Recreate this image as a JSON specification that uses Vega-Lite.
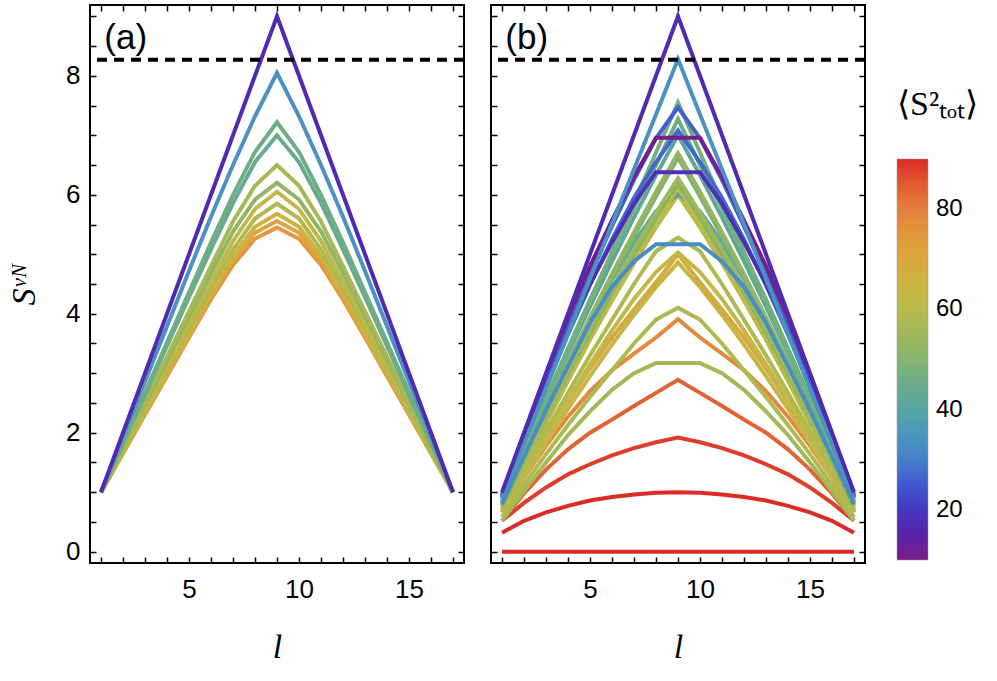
{
"$schema": "https://vega.github.io/schema/vega-lite/v6.json",
"padding": {"left": 6, "top": 3, "right": 5, "bottom": 5},
"background": "white",
"config": {
  "view": {"stroke": "black", "strokeWidth": 2},
  "font": "Liberation Sans",
  "axis": {"domain": false, "grid": false, "tickColor": "black", "tickWidth": 1.5, "tickSize": 6, "offset": -6, "labelColor": "black", "labelFont": "Liberation Sans", "labelFontSize": 26, "titleColor": "black"},
  "concat": {"spacing": 21}
},
"datasets": {
"a": [
{"id":"a11","l":1,"S":1,"c":75},{"id":"a11","l":2,"S":1.65,"c":75},{"id":"a11","l":3,"S":2.3,"c":75},{"id":"a11","l":4,"S":2.95,"c":75},{"id":"a11","l":5,"S":3.6,"c":75},{"id":"a11","l":6,"S":4.24,"c":75},{"id":"a11","l":7,"S":4.82,"c":75},{"id":"a11","l":8,"S":5.26,"c":75},{"id":"a11","l":9,"S":5.45,"c":75},{"id":"a11","l":10,"S":5.26,"c":75},{"id":"a11","l":11,"S":4.82,"c":75},{"id":"a11","l":12,"S":4.24,"c":75},{"id":"a11","l":13,"S":3.6,"c":75},{"id":"a11","l":14,"S":2.95,"c":75},{"id":"a11","l":15,"S":2.3,"c":75},{"id":"a11","l":16,"S":1.65,"c":75},{"id":"a11","l":17,"S":1,"c":75},
{"id":"a10","l":1,"S":1,"c":70},{"id":"a10","l":2,"S":1.66,"c":70},{"id":"a10","l":3,"S":2.32,"c":70},{"id":"a10","l":4,"S":2.98,"c":70},{"id":"a10","l":5,"S":3.64,"c":70},{"id":"a10","l":6,"S":4.29,"c":70},{"id":"a10","l":7,"S":4.9,"c":70},{"id":"a10","l":8,"S":5.36,"c":70},{"id":"a10","l":9,"S":5.56,"c":70},{"id":"a10","l":10,"S":5.36,"c":70},{"id":"a10","l":11,"S":4.9,"c":70},{"id":"a10","l":12,"S":4.29,"c":70},{"id":"a10","l":13,"S":3.64,"c":70},{"id":"a10","l":14,"S":2.98,"c":70},{"id":"a10","l":15,"S":2.32,"c":70},{"id":"a10","l":16,"S":1.66,"c":70},{"id":"a10","l":17,"S":1,"c":70},
{"id":"a9","l":1,"S":1,"c":66},{"id":"a9","l":2,"S":1.67,"c":66},{"id":"a9","l":3,"S":2.34,"c":66},{"id":"a9","l":4,"S":3.01,"c":66},{"id":"a9","l":5,"S":3.68,"c":66},{"id":"a9","l":6,"S":4.34,"c":66},{"id":"a9","l":7,"S":4.97,"c":66},{"id":"a9","l":8,"S":5.46,"c":66},{"id":"a9","l":9,"S":5.68,"c":66},{"id":"a9","l":10,"S":5.46,"c":66},{"id":"a9","l":11,"S":4.97,"c":66},{"id":"a9","l":12,"S":4.34,"c":66},{"id":"a9","l":13,"S":3.68,"c":66},{"id":"a9","l":14,"S":3.01,"c":66},{"id":"a9","l":15,"S":2.34,"c":66},{"id":"a9","l":16,"S":1.67,"c":66},{"id":"a9","l":17,"S":1,"c":66},
{"id":"a8","l":1,"S":1,"c":58},{"id":"a8","l":2,"S":1.69,"c":58},{"id":"a8","l":3,"S":2.38,"c":58},{"id":"a8","l":4,"S":3.07,"c":58},{"id":"a8","l":5,"S":3.76,"c":58},{"id":"a8","l":6,"S":4.44,"c":58},{"id":"a8","l":7,"S":5.08,"c":58},{"id":"a8","l":8,"S":5.6,"c":58},{"id":"a8","l":9,"S":5.85,"c":58},{"id":"a8","l":10,"S":5.6,"c":58},{"id":"a8","l":11,"S":5.08,"c":58},{"id":"a8","l":12,"S":4.44,"c":58},{"id":"a8","l":13,"S":3.76,"c":58},{"id":"a8","l":14,"S":3.07,"c":58},{"id":"a8","l":15,"S":2.38,"c":58},{"id":"a8","l":16,"S":1.69,"c":58},{"id":"a8","l":17,"S":1,"c":58},
{"id":"a7","l":1,"S":1,"c":62},{"id":"a7","l":2,"S":1.71,"c":62},{"id":"a7","l":3,"S":2.42,"c":62},{"id":"a7","l":4,"S":3.13,"c":62},{"id":"a7","l":5,"S":3.84,"c":62},{"id":"a7","l":6,"S":4.54,"c":62},{"id":"a7","l":7,"S":5.22,"c":62},{"id":"a7","l":8,"S":5.76,"c":62},{"id":"a7","l":9,"S":6.05,"c":62},{"id":"a7","l":10,"S":5.76,"c":62},{"id":"a7","l":11,"S":5.22,"c":62},{"id":"a7","l":12,"S":4.54,"c":62},{"id":"a7","l":13,"S":3.84,"c":62},{"id":"a7","l":14,"S":3.13,"c":62},{"id":"a7","l":15,"S":2.42,"c":62},{"id":"a7","l":16,"S":1.71,"c":62},{"id":"a7","l":17,"S":1,"c":62},
{"id":"a6","l":1,"S":1,"c":52},{"id":"a6","l":2,"S":1.74,"c":52},{"id":"a6","l":3,"S":2.48,"c":52},{"id":"a6","l":4,"S":3.22,"c":52},{"id":"a6","l":5,"S":3.96,"c":52},{"id":"a6","l":6,"S":4.68,"c":52},{"id":"a6","l":7,"S":5.38,"c":52},{"id":"a6","l":8,"S":5.92,"c":52},{"id":"a6","l":9,"S":6.2,"c":52},{"id":"a6","l":10,"S":5.92,"c":52},{"id":"a6","l":11,"S":5.38,"c":52},{"id":"a6","l":12,"S":4.68,"c":52},{"id":"a6","l":13,"S":3.96,"c":52},{"id":"a6","l":14,"S":3.22,"c":52},{"id":"a6","l":15,"S":2.48,"c":52},{"id":"a6","l":16,"S":1.74,"c":52},{"id":"a6","l":17,"S":1,"c":52},
{"id":"a5","l":1,"S":1,"c":57},{"id":"a5","l":2,"S":1.76,"c":57},{"id":"a5","l":3,"S":2.52,"c":57},{"id":"a5","l":4,"S":3.28,"c":57},{"id":"a5","l":5,"S":4.04,"c":57},{"id":"a5","l":6,"S":4.8,"c":57},{"id":"a5","l":7,"S":5.55,"c":57},{"id":"a5","l":8,"S":6.15,"c":57},{"id":"a5","l":9,"S":6.5,"c":57},{"id":"a5","l":10,"S":6.15,"c":57},{"id":"a5","l":11,"S":5.55,"c":57},{"id":"a5","l":12,"S":4.8,"c":57},{"id":"a5","l":13,"S":4.04,"c":57},{"id":"a5","l":14,"S":3.28,"c":57},{"id":"a5","l":15,"S":2.52,"c":57},{"id":"a5","l":16,"S":1.76,"c":57},{"id":"a5","l":17,"S":1,"c":57},
{"id":"a4","l":1,"S":1,"c":44},{"id":"a4","l":2,"S":1.82,"c":44},{"id":"a4","l":3,"S":2.64,"c":44},{"id":"a4","l":4,"S":3.46,"c":44},{"id":"a4","l":5,"S":4.28,"c":44},{"id":"a4","l":6,"S":5.08,"c":44},{"id":"a4","l":7,"S":5.86,"c":44},{"id":"a4","l":8,"S":6.55,"c":44},{"id":"a4","l":9,"S":7,"c":44},{"id":"a4","l":10,"S":6.55,"c":44},{"id":"a4","l":11,"S":5.86,"c":44},{"id":"a4","l":12,"S":5.08,"c":44},{"id":"a4","l":13,"S":4.28,"c":44},{"id":"a4","l":14,"S":3.46,"c":44},{"id":"a4","l":15,"S":2.64,"c":44},{"id":"a4","l":16,"S":1.82,"c":44},{"id":"a4","l":17,"S":1,"c":44},
{"id":"a3","l":1,"S":1,"c":46},{"id":"a3","l":2,"S":1.84,"c":46},{"id":"a3","l":3,"S":2.68,"c":46},{"id":"a3","l":4,"S":3.52,"c":46},{"id":"a3","l":5,"S":4.36,"c":46},{"id":"a3","l":6,"S":5.2,"c":46},{"id":"a3","l":7,"S":6,"c":46},{"id":"a3","l":8,"S":6.72,"c":46},{"id":"a3","l":9,"S":7.22,"c":46},{"id":"a3","l":10,"S":6.72,"c":46},{"id":"a3","l":11,"S":6,"c":46},{"id":"a3","l":12,"S":5.2,"c":46},{"id":"a3","l":13,"S":4.36,"c":46},{"id":"a3","l":14,"S":3.52,"c":46},{"id":"a3","l":15,"S":2.68,"c":46},{"id":"a3","l":16,"S":1.84,"c":46},{"id":"a3","l":17,"S":1,"c":46},
{"id":"a2","l":1,"S":1,"c":34},{"id":"a2","l":2,"S":1.93,"c":34},{"id":"a2","l":3,"S":2.86,"c":34},{"id":"a2","l":4,"S":3.79,"c":34},{"id":"a2","l":5,"S":4.72,"c":34},{"id":"a2","l":6,"S":5.63,"c":34},{"id":"a2","l":7,"S":6.5,"c":34},{"id":"a2","l":8,"S":7.32,"c":34},{"id":"a2","l":9,"S":8.05,"c":34},{"id":"a2","l":10,"S":7.32,"c":34},{"id":"a2","l":11,"S":6.5,"c":34},{"id":"a2","l":12,"S":5.63,"c":34},{"id":"a2","l":13,"S":4.72,"c":34},{"id":"a2","l":14,"S":3.79,"c":34},{"id":"a2","l":15,"S":2.86,"c":34},{"id":"a2","l":16,"S":1.93,"c":34},{"id":"a2","l":17,"S":1,"c":34},
{"id":"a1","l":1,"S":1,"c":17},{"id":"a1","l":2,"S":2,"c":17},{"id":"a1","l":3,"S":3,"c":17},{"id":"a1","l":4,"S":4,"c":17},{"id":"a1","l":5,"S":5,"c":17},{"id":"a1","l":6,"S":6,"c":17},{"id":"a1","l":7,"S":7,"c":17},{"id":"a1","l":8,"S":8,"c":17},{"id":"a1","l":9,"S":9,"c":17},{"id":"a1","l":10,"S":8,"c":17},{"id":"a1","l":11,"S":7,"c":17},{"id":"a1","l":12,"S":6,"c":17},{"id":"a1","l":13,"S":5,"c":17},{"id":"a1","l":14,"S":4,"c":17},{"id":"a1","l":15,"S":3,"c":17},{"id":"a1","l":16,"S":2,"c":17},{"id":"a1","l":17,"S":1,"c":17}
],
"b": [
{"id":"b28","l":1,"S":0,"c":90},{"id":"b28","l":2,"S":0,"c":90},{"id":"b28","l":3,"S":0,"c":90},{"id":"b28","l":4,"S":0,"c":90},{"id":"b28","l":5,"S":0,"c":90},{"id":"b28","l":6,"S":0,"c":90},{"id":"b28","l":7,"S":0,"c":90},{"id":"b28","l":8,"S":0,"c":90},{"id":"b28","l":9,"S":0,"c":90},{"id":"b28","l":10,"S":0,"c":90},{"id":"b28","l":11,"S":0,"c":90},{"id":"b28","l":12,"S":0,"c":90},{"id":"b28","l":13,"S":0,"c":90},{"id":"b28","l":14,"S":0,"c":90},{"id":"b28","l":15,"S":0,"c":90},{"id":"b28","l":16,"S":0,"c":90},{"id":"b28","l":17,"S":0,"c":90},
{"id":"b27","l":1,"S":0.32,"c":90},{"id":"b27","l":2,"S":0.52,"c":90},{"id":"b27","l":3,"S":0.66,"c":90},{"id":"b27","l":4,"S":0.77,"c":90},{"id":"b27","l":5,"S":0.86,"c":90},{"id":"b27","l":6,"S":0.92,"c":90},{"id":"b27","l":7,"S":0.96,"c":90},{"id":"b27","l":8,"S":0.99,"c":90},{"id":"b27","l":9,"S":1,"c":90},{"id":"b27","l":10,"S":0.99,"c":90},{"id":"b27","l":11,"S":0.96,"c":90},{"id":"b27","l":12,"S":0.92,"c":90},{"id":"b27","l":13,"S":0.86,"c":90},{"id":"b27","l":14,"S":0.77,"c":90},{"id":"b27","l":15,"S":0.66,"c":90},{"id":"b27","l":16,"S":0.52,"c":90},{"id":"b27","l":17,"S":0.32,"c":90},
{"id":"b26","l":1,"S":0.52,"c":88},{"id":"b26","l":2,"S":0.82,"c":88},{"id":"b26","l":3,"S":1.08,"c":88},{"id":"b26","l":4,"S":1.3,"c":88},{"id":"b26","l":5,"S":1.47,"c":88},{"id":"b26","l":6,"S":1.62,"c":88},{"id":"b26","l":7,"S":1.74,"c":88},{"id":"b26","l":8,"S":1.84,"c":88},{"id":"b26","l":9,"S":1.92,"c":88},{"id":"b26","l":10,"S":1.84,"c":88},{"id":"b26","l":11,"S":1.74,"c":88},{"id":"b26","l":12,"S":1.62,"c":88},{"id":"b26","l":13,"S":1.47,"c":88},{"id":"b26","l":14,"S":1.3,"c":88},{"id":"b26","l":15,"S":1.08,"c":88},{"id":"b26","l":16,"S":0.82,"c":88},{"id":"b26","l":17,"S":0.52,"c":88},
{"id":"b25","l":1,"S":0.52,"c":84},{"id":"b25","l":2,"S":0.98,"c":84},{"id":"b25","l":3,"S":1.38,"c":84},{"id":"b25","l":4,"S":1.72,"c":84},{"id":"b25","l":5,"S":2,"c":84},{"id":"b25","l":6,"S":2.22,"c":84},{"id":"b25","l":7,"S":2.45,"c":84},{"id":"b25","l":8,"S":2.67,"c":84},{"id":"b25","l":9,"S":2.89,"c":84},{"id":"b25","l":10,"S":2.67,"c":84},{"id":"b25","l":11,"S":2.45,"c":84},{"id":"b25","l":12,"S":2.22,"c":84},{"id":"b25","l":13,"S":2,"c":84},{"id":"b25","l":14,"S":1.72,"c":84},{"id":"b25","l":15,"S":1.38,"c":84},{"id":"b25","l":16,"S":0.98,"c":84},{"id":"b25","l":17,"S":0.52,"c":84},
{"id":"b24","l":1,"S":0.52,"c":56},{"id":"b24","l":2,"S":1.02,"c":56},{"id":"b24","l":3,"S":1.5,"c":56},{"id":"b24","l":4,"S":1.96,"c":56},{"id":"b24","l":5,"S":2.36,"c":56},{"id":"b24","l":6,"S":2.72,"c":56},{"id":"b24","l":7,"S":3,"c":56},{"id":"b24","l":8,"S":3.17,"c":56},{"id":"b24","l":9,"S":3.17,"c":56},{"id":"b24","l":10,"S":3.17,"c":56},{"id":"b24","l":11,"S":3,"c":56},{"id":"b24","l":12,"S":2.72,"c":56},{"id":"b24","l":13,"S":2.36,"c":56},{"id":"b24","l":14,"S":1.96,"c":56},{"id":"b24","l":15,"S":1.5,"c":56},{"id":"b24","l":16,"S":1.02,"c":56},{"id":"b24","l":17,"S":0.52,"c":56},
{"id":"b23","l":1,"S":0.66,"c":78},{"id":"b23","l":2,"S":1.24,"c":78},{"id":"b23","l":3,"S":1.78,"c":78},{"id":"b23","l":4,"S":2.27,"c":78},{"id":"b23","l":5,"S":2.7,"c":78},{"id":"b23","l":6,"S":3.05,"c":78},{"id":"b23","l":7,"S":3.33,"c":78},{"id":"b23","l":8,"S":3.6,"c":78},{"id":"b23","l":9,"S":3.91,"c":78},{"id":"b23","l":10,"S":3.6,"c":78},{"id":"b23","l":11,"S":3.33,"c":78},{"id":"b23","l":12,"S":3.05,"c":78},{"id":"b23","l":13,"S":2.7,"c":78},{"id":"b23","l":14,"S":2.27,"c":78},{"id":"b23","l":15,"S":1.78,"c":78},{"id":"b23","l":16,"S":1.24,"c":78},{"id":"b23","l":17,"S":0.66,"c":78},
{"id":"b22","l":1,"S":0.58,"c":58},{"id":"b22","l":2,"S":1.12,"c":58},{"id":"b22","l":3,"S":1.64,"c":58},{"id":"b22","l":4,"S":2.13,"c":58},{"id":"b22","l":5,"S":2.6,"c":58},{"id":"b22","l":6,"S":3.05,"c":58},{"id":"b22","l":7,"S":3.5,"c":58},{"id":"b22","l":8,"S":3.9,"c":58},{"id":"b22","l":9,"S":4.1,"c":58},{"id":"b22","l":10,"S":3.9,"c":58},{"id":"b22","l":11,"S":3.5,"c":58},{"id":"b22","l":12,"S":3.05,"c":58},{"id":"b22","l":13,"S":2.6,"c":58},{"id":"b22","l":14,"S":2.13,"c":58},{"id":"b22","l":15,"S":1.64,"c":58},{"id":"b22","l":16,"S":1.12,"c":58},{"id":"b22","l":17,"S":0.58,"c":58},
{"id":"b21","l":1,"S":0.66,"c":63},{"id":"b21","l":2,"S":1.25,"c":63},{"id":"b21","l":3,"S":1.83,"c":63},{"id":"b21","l":4,"S":2.4,"c":63},{"id":"b21","l":5,"S":2.95,"c":63},{"id":"b21","l":6,"S":3.48,"c":63},{"id":"b21","l":7,"S":3.98,"c":63},{"id":"b21","l":8,"S":4.45,"c":63},{"id":"b21","l":9,"S":4.86,"c":63},{"id":"b21","l":10,"S":4.45,"c":63},{"id":"b21","l":11,"S":3.98,"c":63},{"id":"b21","l":12,"S":3.48,"c":63},{"id":"b21","l":13,"S":2.95,"c":63},{"id":"b21","l":14,"S":2.4,"c":63},{"id":"b21","l":15,"S":1.83,"c":63},{"id":"b21","l":16,"S":1.25,"c":63},{"id":"b21","l":17,"S":0.66,"c":63},
{"id":"b20","l":1,"S":0.7,"c":70},{"id":"b20","l":2,"S":1.32,"c":70},{"id":"b20","l":3,"S":1.93,"c":70},{"id":"b20","l":4,"S":2.52,"c":70},{"id":"b20","l":5,"S":3.08,"c":70},{"id":"b20","l":6,"S":3.6,"c":70},{"id":"b20","l":7,"S":4.07,"c":70},{"id":"b20","l":8,"S":4.53,"c":70},{"id":"b20","l":9,"S":5,"c":70},{"id":"b20","l":10,"S":4.53,"c":70},{"id":"b20","l":11,"S":4.07,"c":70},{"id":"b20","l":12,"S":3.6,"c":70},{"id":"b20","l":13,"S":3.08,"c":70},{"id":"b20","l":14,"S":2.52,"c":70},{"id":"b20","l":15,"S":1.93,"c":70},{"id":"b20","l":16,"S":1.32,"c":70},{"id":"b20","l":17,"S":0.7,"c":70},
{"id":"b19","l":1,"S":0.66,"c":62},{"id":"b19","l":2,"S":1.3,"c":62},{"id":"b19","l":3,"S":1.93,"c":62},{"id":"b19","l":4,"S":2.55,"c":62},{"id":"b19","l":5,"S":3.15,"c":62},{"id":"b19","l":6,"S":3.72,"c":62},{"id":"b19","l":7,"S":4.25,"c":62},{"id":"b19","l":8,"S":4.7,"c":62},{"id":"b19","l":9,"S":5.03,"c":62},{"id":"b19","l":10,"S":4.7,"c":62},{"id":"b19","l":11,"S":4.25,"c":62},{"id":"b19","l":12,"S":3.72,"c":62},{"id":"b19","l":13,"S":3.15,"c":62},{"id":"b19","l":14,"S":2.55,"c":62},{"id":"b19","l":15,"S":1.93,"c":62},{"id":"b19","l":16,"S":1.3,"c":62},{"id":"b19","l":17,"S":0.66,"c":62},
{"id":"b17","l":1,"S":0.66,"c":58},{"id":"b17","l":2,"S":1.35,"c":58},{"id":"b17","l":3,"S":2.02,"c":58},{"id":"b17","l":4,"S":2.67,"c":58},{"id":"b17","l":5,"S":3.3,"c":58},{"id":"b17","l":6,"S":3.9,"c":58},{"id":"b17","l":7,"S":4.5,"c":58},{"id":"b17","l":8,"S":5.05,"c":58},{"id":"b17","l":9,"S":5.28,"c":58},{"id":"b17","l":10,"S":5.05,"c":58},{"id":"b17","l":11,"S":4.5,"c":58},{"id":"b17","l":12,"S":3.9,"c":58},{"id":"b17","l":13,"S":3.3,"c":58},{"id":"b17","l":14,"S":2.67,"c":58},{"id":"b17","l":15,"S":2.02,"c":58},{"id":"b17","l":16,"S":1.35,"c":58},{"id":"b17","l":17,"S":0.66,"c":58},
{"id":"b16","l":1,"S":0.68,"c":60},{"id":"b16","l":2,"S":1.42,"c":60},{"id":"b16","l":3,"S":2.15,"c":60},{"id":"b16","l":4,"S":2.87,"c":60},{"id":"b16","l":5,"S":3.56,"c":60},{"id":"b16","l":6,"S":4.22,"c":60},{"id":"b16","l":7,"S":4.85,"c":60},{"id":"b16","l":8,"S":5.45,"c":60},{"id":"b16","l":9,"S":6,"c":60},{"id":"b16","l":10,"S":5.45,"c":60},{"id":"b16","l":11,"S":4.85,"c":60},{"id":"b16","l":12,"S":4.22,"c":60},{"id":"b16","l":13,"S":3.56,"c":60},{"id":"b16","l":14,"S":2.87,"c":60},{"id":"b16","l":15,"S":2.15,"c":60},{"id":"b16","l":16,"S":1.42,"c":60},{"id":"b16","l":17,"S":0.68,"c":60},
{"id":"b15","l":1,"S":0.83,"c":42},{"id":"b15","l":2,"S":1.62,"c":42},{"id":"b15","l":3,"S":2.4,"c":42},{"id":"b15","l":4,"S":3.15,"c":42},{"id":"b15","l":5,"S":3.88,"c":42},{"id":"b15","l":6,"S":4.57,"c":42},{"id":"b15","l":7,"S":5.2,"c":42},{"id":"b15","l":8,"S":5.72,"c":42},{"id":"b15","l":9,"S":6.01,"c":42},{"id":"b15","l":10,"S":5.72,"c":42},{"id":"b15","l":11,"S":5.2,"c":42},{"id":"b15","l":12,"S":4.57,"c":42},{"id":"b15","l":13,"S":3.88,"c":42},{"id":"b15","l":14,"S":3.15,"c":42},{"id":"b15","l":15,"S":2.4,"c":42},{"id":"b15","l":16,"S":1.62,"c":42},{"id":"b15","l":17,"S":0.83,"c":42},
{"id":"b14","l":1,"S":0.68,"c":62},{"id":"b14","l":2,"S":1.45,"c":62},{"id":"b14","l":3,"S":2.2,"c":62},{"id":"b14","l":4,"S":2.93,"c":62},{"id":"b14","l":5,"S":3.63,"c":62},{"id":"b14","l":6,"S":4.3,"c":62},{"id":"b14","l":7,"S":4.93,"c":62},{"id":"b14","l":8,"S":5.54,"c":62},{"id":"b14","l":9,"S":6.12,"c":62},{"id":"b14","l":10,"S":5.54,"c":62},{"id":"b14","l":11,"S":4.93,"c":62},{"id":"b14","l":12,"S":4.3,"c":62},{"id":"b14","l":13,"S":3.63,"c":62},{"id":"b14","l":14,"S":2.93,"c":62},{"id":"b14","l":15,"S":2.2,"c":62},{"id":"b14","l":16,"S":1.45,"c":62},{"id":"b14","l":17,"S":0.68,"c":62},
{"id":"b13","l":1,"S":0.75,"c":50},{"id":"b13","l":2,"S":1.5,"c":50},{"id":"b13","l":3,"S":2.25,"c":50},{"id":"b13","l":4,"S":2.98,"c":50},{"id":"b13","l":5,"S":3.68,"c":50},{"id":"b13","l":6,"S":4.36,"c":50},{"id":"b13","l":7,"S":5,"c":50},{"id":"b13","l":8,"S":5.62,"c":50},{"id":"b13","l":9,"S":6.2,"c":50},{"id":"b13","l":10,"S":5.62,"c":50},{"id":"b13","l":11,"S":5,"c":50},{"id":"b13","l":12,"S":4.36,"c":50},{"id":"b13","l":13,"S":3.68,"c":50},{"id":"b13","l":14,"S":2.98,"c":50},{"id":"b13","l":15,"S":2.25,"c":50},{"id":"b13","l":16,"S":1.5,"c":50},{"id":"b13","l":17,"S":0.75,"c":50},
{"id":"b12","l":1,"S":0.72,"c":55},{"id":"b12","l":2,"S":1.5,"c":55},{"id":"b12","l":3,"S":2.27,"c":55},{"id":"b12","l":4,"S":3.02,"c":55},{"id":"b12","l":5,"S":3.74,"c":55},{"id":"b12","l":6,"S":4.43,"c":55},{"id":"b12","l":7,"S":5.08,"c":55},{"id":"b12","l":8,"S":5.7,"c":55},{"id":"b12","l":9,"S":6.28,"c":55},{"id":"b12","l":10,"S":5.7,"c":55},{"id":"b12","l":11,"S":5.08,"c":55},{"id":"b12","l":12,"S":4.43,"c":55},{"id":"b12","l":13,"S":3.74,"c":55},{"id":"b12","l":14,"S":3.02,"c":55},{"id":"b12","l":15,"S":2.27,"c":55},{"id":"b12","l":16,"S":1.5,"c":55},{"id":"b12","l":17,"S":0.72,"c":55},
{"id":"b11","l":1,"S":0.78,"c":49},{"id":"b11","l":2,"S":1.58,"c":49},{"id":"b11","l":3,"S":2.37,"c":49},{"id":"b11","l":4,"S":3.14,"c":49},{"id":"b11","l":5,"S":3.88,"c":49},{"id":"b11","l":6,"S":4.6,"c":49},{"id":"b11","l":7,"S":5.3,"c":49},{"id":"b11","l":8,"S":5.97,"c":49},{"id":"b11","l":9,"S":6.62,"c":49},{"id":"b11","l":10,"S":5.97,"c":49},{"id":"b11","l":11,"S":5.3,"c":49},{"id":"b11","l":12,"S":4.6,"c":49},{"id":"b11","l":13,"S":3.88,"c":49},{"id":"b11","l":14,"S":3.14,"c":49},{"id":"b11","l":15,"S":2.37,"c":49},{"id":"b11","l":16,"S":1.58,"c":49},{"id":"b11","l":17,"S":0.78,"c":49},
{"id":"b10","l":1,"S":0.78,"c":53},{"id":"b10","l":2,"S":1.6,"c":53},{"id":"b10","l":3,"S":2.4,"c":53},{"id":"b10","l":4,"S":3.18,"c":53},{"id":"b10","l":5,"S":3.94,"c":53},{"id":"b10","l":6,"S":4.67,"c":53},{"id":"b10","l":7,"S":5.37,"c":53},{"id":"b10","l":8,"S":6.05,"c":53},{"id":"b10","l":9,"S":6.7,"c":53},{"id":"b10","l":10,"S":6.05,"c":53},{"id":"b10","l":11,"S":5.37,"c":53},{"id":"b10","l":12,"S":4.67,"c":53},{"id":"b10","l":13,"S":3.94,"c":53},{"id":"b10","l":14,"S":3.18,"c":53},{"id":"b10","l":15,"S":2.4,"c":53},{"id":"b10","l":16,"S":1.6,"c":53},{"id":"b10","l":17,"S":0.78,"c":53},
{"id":"b8","l":1,"S":0.83,"c":42},{"id":"b8","l":2,"S":1.68,"c":42},{"id":"b8","l":3,"S":2.52,"c":42},{"id":"b8","l":4,"S":3.33,"c":42},{"id":"b8","l":5,"S":4.12,"c":42},{"id":"b8","l":6,"S":4.88,"c":42},{"id":"b8","l":7,"S":5.62,"c":42},{"id":"b8","l":8,"S":6.33,"c":42},{"id":"b8","l":9,"S":7,"c":42},{"id":"b8","l":10,"S":6.33,"c":42},{"id":"b8","l":11,"S":5.62,"c":42},{"id":"b8","l":12,"S":4.88,"c":42},{"id":"b8","l":13,"S":4.12,"c":42},{"id":"b8","l":14,"S":3.33,"c":42},{"id":"b8","l":15,"S":2.52,"c":42},{"id":"b8","l":16,"S":1.68,"c":42},{"id":"b8","l":17,"S":0.83,"c":42},
{"id":"b7","l":1,"S":0.85,"c":46},{"id":"b7","l":2,"S":1.72,"c":46},{"id":"b7","l":3,"S":2.58,"c":46},{"id":"b7","l":4,"S":3.42,"c":46},{"id":"b7","l":5,"S":4.24,"c":46},{"id":"b7","l":6,"S":5.02,"c":46},{"id":"b7","l":7,"S":5.77,"c":46},{"id":"b7","l":8,"S":6.5,"c":46},{"id":"b7","l":9,"S":7.27,"c":46},{"id":"b7","l":10,"S":6.5,"c":46},{"id":"b7","l":11,"S":5.77,"c":46},{"id":"b7","l":12,"S":5.02,"c":46},{"id":"b7","l":13,"S":4.24,"c":46},{"id":"b7","l":14,"S":3.42,"c":46},{"id":"b7","l":15,"S":2.58,"c":46},{"id":"b7","l":16,"S":1.72,"c":46},{"id":"b7","l":17,"S":0.85,"c":46},
{"id":"b3","l":1,"S":0.85,"c":47},{"id":"b3","l":2,"S":1.69,"c":47},{"id":"b3","l":3,"S":2.52,"c":47},{"id":"b3","l":4,"S":3.36,"c":47},{"id":"b3","l":5,"S":4.2,"c":47},{"id":"b3","l":6,"S":5.04,"c":47},{"id":"b3","l":7,"S":5.87,"c":47},{"id":"b3","l":8,"S":6.71,"c":47},{"id":"b3","l":9,"S":7.55,"c":47},{"id":"b3","l":10,"S":6.71,"c":47},{"id":"b3","l":11,"S":5.87,"c":47},{"id":"b3","l":12,"S":5.04,"c":47},{"id":"b3","l":13,"S":4.2,"c":47},{"id":"b3","l":14,"S":3.36,"c":47},{"id":"b3","l":15,"S":2.52,"c":47},{"id":"b3","l":16,"S":1.69,"c":47},{"id":"b3","l":17,"S":0.85,"c":47},
{"id":"b18","l":1,"S":0.8,"c":33},{"id":"b18","l":2,"S":1.6,"c":33},{"id":"b18","l":3,"S":2.38,"c":33},{"id":"b18","l":4,"S":3.12,"c":33},{"id":"b18","l":5,"S":3.85,"c":33},{"id":"b18","l":6,"S":4.45,"c":33},{"id":"b18","l":7,"S":4.88,"c":33},{"id":"b18","l":8,"S":5.17,"c":33},{"id":"b18","l":9,"S":5.17,"c":33},{"id":"b18","l":10,"S":5.17,"c":33},{"id":"b18","l":11,"S":4.88,"c":33},{"id":"b18","l":12,"S":4.45,"c":33},{"id":"b18","l":13,"S":3.85,"c":33},{"id":"b18","l":14,"S":3.12,"c":33},{"id":"b18","l":15,"S":2.38,"c":33},{"id":"b18","l":16,"S":1.6,"c":33},{"id":"b18","l":17,"S":0.8,"c":33},
{"id":"b6","l":1,"S":0.92,"c":27},{"id":"b6","l":2,"S":1.85,"c":27},{"id":"b6","l":3,"S":2.77,"c":27},{"id":"b6","l":4,"S":3.65,"c":27},{"id":"b6","l":5,"S":4.48,"c":27},{"id":"b6","l":6,"S":5.25,"c":27},{"id":"b6","l":7,"S":5.95,"c":27},{"id":"b6","l":8,"S":6.55,"c":27},{"id":"b6","l":9,"S":7.08,"c":27},{"id":"b6","l":10,"S":6.55,"c":27},{"id":"b6","l":11,"S":5.95,"c":27},{"id":"b6","l":12,"S":5.25,"c":27},{"id":"b6","l":13,"S":4.48,"c":27},{"id":"b6","l":14,"S":3.65,"c":27},{"id":"b6","l":15,"S":2.77,"c":27},{"id":"b6","l":16,"S":1.85,"c":27},{"id":"b6","l":17,"S":0.92,"c":27},
{"id":"b9","l":1,"S":0.9,"c":18},{"id":"b9","l":2,"S":1.9,"c":18},{"id":"b9","l":3,"S":2.85,"c":18},{"id":"b9","l":4,"S":3.72,"c":18},{"id":"b9","l":5,"S":4.5,"c":18},{"id":"b9","l":6,"S":5.2,"c":18},{"id":"b9","l":7,"S":5.85,"c":18},{"id":"b9","l":8,"S":6.38,"c":18},{"id":"b9","l":9,"S":6.38,"c":18},{"id":"b9","l":10,"S":6.38,"c":18},{"id":"b9","l":11,"S":5.85,"c":18},{"id":"b9","l":12,"S":5.2,"c":18},{"id":"b9","l":13,"S":4.5,"c":18},{"id":"b9","l":14,"S":3.72,"c":18},{"id":"b9","l":15,"S":2.85,"c":18},{"id":"b9","l":16,"S":1.9,"c":18},{"id":"b9","l":17,"S":0.9,"c":18},
{"id":"b4","l":1,"S":0.93,"c":26},{"id":"b4","l":2,"S":1.9,"c":26},{"id":"b4","l":3,"S":2.85,"c":26},{"id":"b4","l":4,"S":3.77,"c":26},{"id":"b4","l":5,"S":4.65,"c":26},{"id":"b4","l":6,"S":5.47,"c":26},{"id":"b4","l":7,"S":6.25,"c":26},{"id":"b4","l":8,"S":6.95,"c":26},{"id":"b4","l":9,"S":7.47,"c":26},{"id":"b4","l":10,"S":6.95,"c":26},{"id":"b4","l":11,"S":6.25,"c":26},{"id":"b4","l":12,"S":5.47,"c":26},{"id":"b4","l":13,"S":4.65,"c":26},{"id":"b4","l":14,"S":3.77,"c":26},{"id":"b4","l":15,"S":2.85,"c":26},{"id":"b4","l":16,"S":1.9,"c":26},{"id":"b4","l":17,"S":0.93,"c":26},
{"id":"b5","l":1,"S":0.95,"c":11},{"id":"b5","l":2,"S":1.98,"c":11},{"id":"b5","l":3,"S":2.98,"c":11},{"id":"b5","l":4,"S":3.93,"c":11},{"id":"b5","l":5,"S":4.8,"c":11},{"id":"b5","l":6,"S":5.57,"c":11},{"id":"b5","l":7,"S":6.3,"c":11},{"id":"b5","l":8,"S":6.96,"c":11},{"id":"b5","l":9,"S":6.96,"c":11},{"id":"b5","l":10,"S":6.96,"c":11},{"id":"b5","l":11,"S":6.3,"c":11},{"id":"b5","l":12,"S":5.57,"c":11},{"id":"b5","l":13,"S":4.8,"c":11},{"id":"b5","l":14,"S":3.93,"c":11},{"id":"b5","l":15,"S":2.98,"c":11},{"id":"b5","l":16,"S":1.98,"c":11},{"id":"b5","l":17,"S":0.95,"c":11},
{"id":"b2","l":1,"S":0.9,"c":34},{"id":"b2","l":2,"S":1.82,"c":34},{"id":"b2","l":3,"S":2.74,"c":34},{"id":"b2","l":4,"S":3.66,"c":34},{"id":"b2","l":5,"S":4.59,"c":34},{"id":"b2","l":6,"S":5.51,"c":34},{"id":"b2","l":7,"S":6.43,"c":34},{"id":"b2","l":8,"S":7.35,"c":34},{"id":"b2","l":9,"S":8.28,"c":34},{"id":"b2","l":10,"S":7.35,"c":34},{"id":"b2","l":11,"S":6.43,"c":34},{"id":"b2","l":12,"S":5.51,"c":34},{"id":"b2","l":13,"S":4.59,"c":34},{"id":"b2","l":14,"S":3.66,"c":34},{"id":"b2","l":15,"S":2.74,"c":34},{"id":"b2","l":16,"S":1.82,"c":34},{"id":"b2","l":17,"S":0.9,"c":34},
{"id":"b1","l":1,"S":1,"c":17},{"id":"b1","l":2,"S":2,"c":17},{"id":"b1","l":3,"S":3,"c":17},{"id":"b1","l":4,"S":4,"c":17},{"id":"b1","l":5,"S":5,"c":17},{"id":"b1","l":6,"S":6,"c":17},{"id":"b1","l":7,"S":7,"c":17},{"id":"b1","l":8,"S":8,"c":17},{"id":"b1","l":9,"S":9,"c":17},{"id":"b1","l":10,"S":8,"c":17},{"id":"b1","l":11,"S":7,"c":17},{"id":"b1","l":12,"S":6,"c":17},{"id":"b1","l":13,"S":5,"c":17},{"id":"b1","l":14,"S":4,"c":17},{"id":"b1","l":15,"S":3,"c":17},{"id":"b1","l":16,"S":2,"c":17},{"id":"b1","l":17,"S":1,"c":17}
]
},
"hconcat": [
{
  "width": 374, "height": 558,
  "layer": [
    {
      "data": {"name": "a"},
      "mark": {"type": "line", "strokeWidth": 4},
      "encoding": {
        "x": {"field": "l", "type": "quantitative", "scale": {"domain": [0.5, 17.5], "nice": false, "zero": false},
          "axis": {"orient": "bottom", "values": [1,2,3,4,5,6,7,8,9,10,11,12,13,14,15,16,17], "labelExpr": "datum.value % 5 === 0 ? format(datum.value, 'd') : ''", "labelPadding": 13, "labelFlush": false, "title": "l", "titleFont": "Liberation Serif", "titleFontStyle": "italic", "titleFontWeight": "normal", "titleFontSize": 34, "titlePadding": 28}},
        "y": {"field": "S", "type": "quantitative", "scale": {"domain": [-0.19, 9.19], "nice": false, "zero": false},
          "axis": {"orient": "left", "values": [0,0.5,1,1.5,2,2.5,3,3.5,4,4.5,5,5.5,6,6.5,7,7.5,8,8.5,9], "labelExpr": "datum.value % 2 === 0 ? format(datum.value, 'd') : ''", "labelPadding": 10, "labelFlush": false, "title": "Sᵛᴺ", "titleFont": "Liberation Serif", "titleFontStyle": "italic", "titleFontWeight": "normal", "titleFontSize": 34, "titlePadding": 24}},
        "color": {"field": "c", "type": "quantitative",
          "scale": {"domain": [10,15,20,25,30,35,40,45,50,55,60,65,70,75,80,85,90], "range": ["#7a1d88","#5a22a8","#4636c0","#4058d0","#4680cc","#4a96be","#55a4a3","#6aac8a","#84b46e","#9eb85a","#b8bb4a","#cbb443","#daa73f","#e2973c","#e4803a","#e15a30","#dc2a27"], "interpolate": "rgb"},
          "legend": {"orient": "none", "legendX": 807, "legendY": 83, "direction": "vertical", "values": [20,40,60,80], "gradientLength": 401, "gradientThickness": 31, "gradientStrokeColor": "#999999", "gradientStrokeWidth": 0.5, "padding": 0, "title": "⟨S²ₜₒₜ⟩", "titleFont": "Liberation Serif", "titleFontSize": 34, "titleFontWeight": "normal", "titleColor": "black", "titlePadding": 37, "labelFont": "Liberation Sans", "labelFontSize": 24, "labelColor": "black", "labelOffset": 8}},
        "detail": {"field": "id"}
      }
    },
    {
      "data": {"values": [{}]},
      "mark": {"type": "rule", "strokeDash": [10, 7], "strokeWidth": 4, "color": "black"},
      "encoding": {"y": {"datum": 8.27, "type": "quantitative", "axis": null}}
    },
    {
      "data": {"values": [{}]},
      "mark": {"type": "text", "text": "(a)", "fontSize": 35, "font": "Liberation Sans", "align": "left", "baseline": "alphabetic", "color": "black"},
      "encoding": {
        "x": {"datum": 1.15, "type": "quantitative", "axis": {"orient": "top", "values": [1,2,3,4,5,6,7,8,9,10,11,12,13,14,15,16,17], "labels": false, "title": null}},
        "y": {"datum": 8.45, "type": "quantitative", "axis": {"orient": "right", "values": [0,0.5,1,1.5,2,2.5,3,3.5,4,4.5,5,5.5,6,6.5,7,7.5,8,8.5,9], "labels": false, "title": null}}
      }
    }
  ],
  "resolve": {"axis": {"x": "independent", "y": "independent"}}
},
{
  "width": 374, "height": 558,
  "layer": [
    {
      "data": {"name": "b"},
      "mark": {"type": "line", "strokeWidth": 4},
      "encoding": {
        "x": {"field": "l", "type": "quantitative", "scale": {"domain": [0.5, 17.5], "nice": false, "zero": false},
          "axis": {"orient": "bottom", "values": [1,2,3,4,5,6,7,8,9,10,11,12,13,14,15,16,17], "labelExpr": "datum.value % 5 === 0 ? format(datum.value, 'd') : ''", "labelPadding": 13, "labelFlush": false, "title": "l", "titleFont": "Liberation Serif", "titleFontStyle": "italic", "titleFontWeight": "normal", "titleFontSize": 34, "titlePadding": 28}},
        "y": {"field": "S", "type": "quantitative", "scale": {"domain": [-0.19, 9.19], "nice": false, "zero": false},
          "axis": {"orient": "left", "values": [0,0.5,1,1.5,2,2.5,3,3.5,4,4.5,5,5.5,6,6.5,7,7.5,8,8.5,9], "labels": false, "title": null}},
        "color": {"field": "c", "type": "quantitative"},
        "detail": {"field": "id"}
      }
    },
    {
      "data": {"values": [{}]},
      "mark": {"type": "rule", "strokeDash": [10, 7], "strokeWidth": 4, "color": "black"},
      "encoding": {"y": {"datum": 8.27, "type": "quantitative", "axis": null}}
    },
    {
      "data": {"values": [{}]},
      "mark": {"type": "text", "text": "(b)", "fontSize": 35, "font": "Liberation Sans", "align": "left", "baseline": "alphabetic", "color": "black"},
      "encoding": {
        "x": {"datum": 1.15, "type": "quantitative", "axis": {"orient": "top", "values": [1,2,3,4,5,6,7,8,9,10,11,12,13,14,15,16,17], "labels": false, "title": null}},
        "y": {"datum": 8.45, "type": "quantitative", "axis": {"orient": "right", "values": [0,0.5,1,1.5,2,2.5,3,3.5,4,4.5,5,5.5,6,6.5,7,7.5,8,8.5,9], "labels": false, "title": null}}
      }
    }
  ],
  "resolve": {"axis": {"x": "independent", "y": "independent"}}
}
],
"resolve": {"scale": {"color": "shared"}}
}
